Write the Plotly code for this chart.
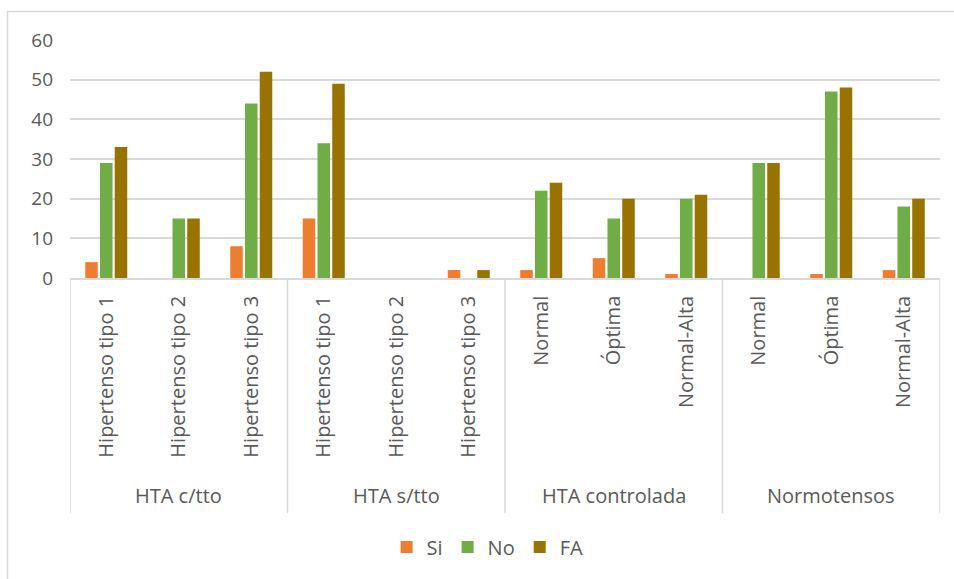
import plotly.graph_objects as go

groups = ["HTA c/tto", "HTA s/tto", "HTA controlada", "Normotensos"]
group_sizes = [3, 3, 3, 3]
subcats = ["Hipertenso tipo 1", "Hipertenso tipo 2", "Hipertenso tipo 3",
           "Hipertenso tipo 1", "Hipertenso tipo 2", "Hipertenso tipo 3",
           "Normal", "Óptima", "Normal-Alta",
           "Normal", "Óptima", "Normal-Alta"]
series_names = ["Si", "No", "FA"]
si = [4, 0, 8, 15, 0, 2, 2, 5, 1, 0, 1, 2]
no = [29, 15, 44, 34, 0, 0, 22, 15, 20, 29, 47, 18]
fa = [33, 15, 52, 49, 0, 2, 24, 20, 21, 29, 48, 20]
y_ticks = [0, 10, 20, 30, 40, 50, 60]

colors = ["#ED7D31", "#70AD47", "#997300"]
FONT = "Open Sans"
GREY = "#595959"
LINE = "#d9d9d9"

x = list(range(len(subcats)))

fig = go.Figure()
for name, vals, col in zip(series_names, [si, no, fa], colors):
    fig.add_trace(go.Bar(x=x, y=vals, name=name, marker=dict(color=col, line=dict(width=0))))

# group separators and labels
shapes = []
annotations = []
start = 0
bounds = [-0.5]
for g, n in zip(groups, group_sizes):
    center = start + (n - 1) / 2
    annotations.append(dict(x=center, xref="x", y=-0.912, yref="paper", text=g,
                            showarrow=False, font=dict(family=FONT, size=20, color=GREY),
                            xanchor="center", yanchor="middle"))
    start += n
    bounds.append(start - 0.5)
for b in bounds:
    shapes.append(dict(type="line", xref="x", yref="paper", x0=b, x1=b, y0=0, y1=-0.988,
                       line=dict(color=LINE, width=1.5)))
# chart area border
shapes.append(dict(type="rect", xref="paper", yref="paper", x0=-0.0718, x1=1.2, y0=-2.0, y1=1.1197,
                   line=dict(color=LINE, width=1.5), fillcolor="rgba(0,0,0,0)"))

fig.update_layout(
    width=954, height=579,
    margin=dict(l=70, r=14, t=40, b=301),
    paper_bgcolor="white", plot_bgcolor="white",
    barmode="group", bargap=0.39, bargroupgap=0.15,
    font=dict(family=FONT, color=GREY, size=20),
    showlegend=True,
    legend=dict(orientation="h", x=0.48, xanchor="center", y=-1.13, yanchor="middle",
                font=dict(family=FONT, size=20, color=GREY), itemwidth=30,
                bgcolor="rgba(0,0,0,0)"),
    shapes=shapes,
    annotations=annotations,
)
fig.update_xaxes(tickmode="array", tickvals=x, ticktext=subcats, tickangle=-90,
                 range=[-0.5, len(subcats) - 0.5], showgrid=False, showline=True,
                 linecolor=LINE, linewidth=1.5, ticks="", ticklabelstandoff=8,
                 tickfont=dict(family=FONT, size=20, color=GREY))
fig.update_yaxes(range=[0, 60], tickvals=y_ticks, showgrid=True, gridcolor=LINE, gridwidth=1.5,
                 zeroline=False, showline=False, ticks="", ticklabelstandoff=16,
                 tickfont=dict(family=FONT, size=19, color=GREY))

fig.write_html("out.html")
